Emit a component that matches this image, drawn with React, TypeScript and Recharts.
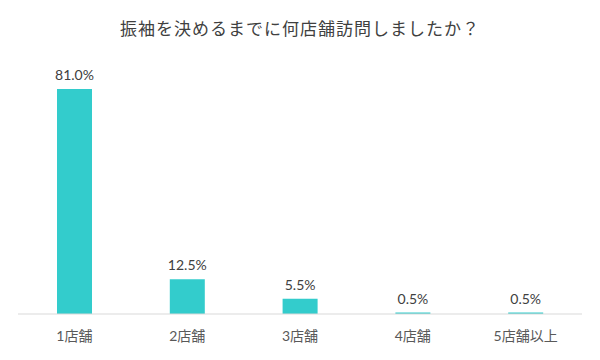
import { Bar, BarChart, LabelList, XAxis, YAxis } from "recharts";

const title = "振袖を決めるまでに何店舗訪問しましたか？";
const categories = ["1店舗", "2店舗", "3店舗", "4店舗", "5店舗以上"];
const shares = [81.0, 12.5, 5.5, 0.5, 0.5];

const font = "Lato, 'Noto Sans CJK JP', sans-serif";

export default function App() {
  const data = categories.map((name, i) => ({ name, value: shares[i] }));

  return (
    <div style={{ position: "absolute", left: 0, top: 0, width: 600, height: 360, background: "#fff", fontFamily: font }}>
      <div
        style={{
          position: "absolute",
          top: 15,
          left: 0,
          width: 600,
          textAlign: "center",
          fontSize: 17,
          color: "#404040",
          fontFamily: "'Noto Sans CJK JP', sans-serif",
          letterSpacing: 1,
        }}
      >
        {title}
      </div>
      <BarChart width={600} height={360} data={data} margin={{ top: 64, right: 18, bottom: 16, left: 18 }} barSize={35}>
        <XAxis
          dataKey="name"
          axisLine={{ stroke: "#d9d9d9" }}
          tickLine={false}
          tick={{ fill: "#595959", fontSize: 14, fontFamily: font }}
          tickMargin={11}
        />
        <YAxis hide domain={[0, 90]} />
        <Bar dataKey="value" fill="#33CCCC" isAnimationActive={false}>
          <LabelList
            dataKey="value"
            position="top"
            offset={9}
            formatter={(v: number) => `${v.toFixed(1)}%`}
            style={{ fill: "#404040", fontSize: 14, fontFamily: font }}
          />
        </Bar>
      </BarChart>
    </div>
  );
}
